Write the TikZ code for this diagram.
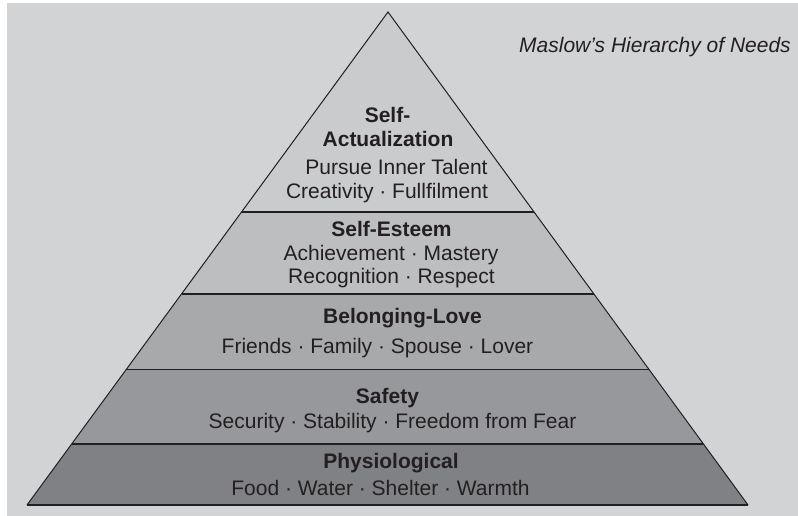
\documentclass[tikz,border=0pt]{standalone}
\usepackage{fontspec}
\setmainfont{Liberation Sans}
\usetikzlibrary{calc}
\definecolor{paper}{HTML}{D2D3D5}
\definecolor{ink}{HTML}{231F20}
\definecolor{layA}{HTML}{CACBCD}
\definecolor{layB}{HTML}{BDBEC0}
\definecolor{layC}{HTML}{A8A9AB}
\definecolor{layD}{HTML}{97989B}
\definecolor{layE}{HTML}{808184}
\begin{document}
\begin{tikzpicture}[x=1pt,y=-1pt,
		every node/.style={text=ink,inner sep=0pt,font=\fontsize{21}{24}\selectfont},
		head/.style={anchor=base,font=\fontsize{21}{24}\selectfont\bfseries},
		txt/.style={anchor=base},
		side/.style={ink,line width=1pt},
		cut/.style={ink,line width=1.7pt}]
	\useasboundingbox (0,0) rectangle (798,516);
	\fill[paper] (7,3) rectangle (798,516);
	% corners of the pyramid
	\coordinate (top) at (388,12);
	\coordinate (bl) at (27,505);
	\coordinate (br) at (748,505);
	% layers, top to bottom
	\begin{scope}
		\clip (top) -- (bl) -- (br) -- cycle;
		\fill[layA] (0,0) rectangle (798,212);
		\fill[layB] (0,212) rectangle (798,294);
		\fill[layC] (0,294) rectangle (798,369.5);
		\fill[layD] (0,369.5) rectangle (798,444);
		\fill[layE] (0,444) rectangle (798,516);
	\end{scope}
	\draw[side,line join=miter] (bl) -- (top) -- (br);
	\draw[cut] (bl) -- (br);
	\foreach \t/\n in {0.4057/1,0.572/2,0.7252/3,0.8763/4}{
		\coordinate (l\n) at ($(top)!\t!(bl)$);
		\coordinate (r\n) at ($(top)!\t!(br)$);
		\draw[cut] (l\n) -- (r\n);
	}
	% title
	\node[txt,font=\fontsize{21}{24}\selectfont\itshape] (title) at (655,53) {Maslow’s Hierarchy of Needs};
	% Self-Actualization
	\node[head] (actA) at (387.5,123) {Self-};
	\node[head] (actB) at (388,147) {Actualization};
	\node[txt] (actC) at (396.5,175) {Pursue Inner Talent};
	\node[txt] (actD) at (387,198) {Creativity · Fullfilment};
	% Self-Esteem
	\node[head] (estA) at (391.5,236) {Self-Esteem};
	\node[txt] (estB) at (391,260) {Achievement · Mastery};
	\node[txt] (estC) at (391.5,283) {Recognition · Respect};
	% Belonging-Love
	\node[head] (belA) at (402.5,323) {Belonging-Love};
	\node[txt] (belB) at (377.5,353) {Friends · Family · Spouse · Lover};
	% Safety
	\node[head] (safA) at (387.5,403) {Safety};
	\node[txt] (safB) at (392.5,428) {Security · Stability · Freedom from Fear};
	% Physiological
	\node[head] (phyA) at (391,468) {Physiological};
	\node[txt] (phyB) at (380.5,495) {Food · Water · Shelter · Warmth};
\end{tikzpicture}
\end{document}
